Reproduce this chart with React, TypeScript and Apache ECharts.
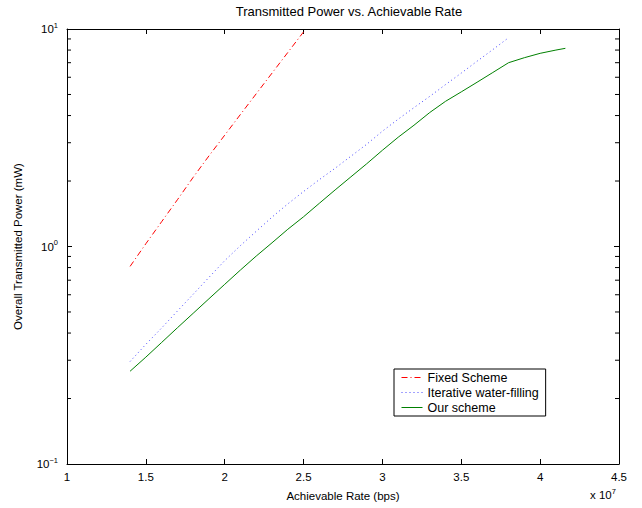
import React, { useEffect, useRef } from "react";
import * as echarts from "echarts";

const FONT = "'Liberation Sans', Arial, Helvetica, sans-serif";

const seriesNames = ["Fixed Scheme", "Iterative water-filling", "Our scheme"];

const fixedRate = [1.4e7, 1.5e7, 1.6e7, 1.7e7, 1.8e7, 1.9e7, 2.0e7, 2.1e7, 2.2e7, 2.3e7, 2.4e7, 2.5e7];
const fixedPower = [0.81, 1.03, 1.3, 1.64, 2.08, 2.61, 3.25, 4.05, 5.04, 6.27, 7.8, 9.7];

const iterRate = [
  1.4e7, 1.5e7, 1.6e7, 1.7e7, 1.8e7, 1.9e7, 2.0e7, 2.1e7, 2.2e7, 2.3e7, 2.4e7, 2.5e7, 2.6e7,
  2.7e7, 2.8e7, 2.9e7, 3.0e7, 3.1e7, 3.2e7, 3.3e7, 3.4e7, 3.5e7, 3.6e7, 3.7e7, 3.8e7,
];
const iterPower = [
  0.296, 0.355, 0.422, 0.505, 0.603, 0.721, 0.861, 1.01, 1.175, 1.365, 1.57, 1.79, 2.03,
  2.29, 2.6, 2.95, 3.39, 3.85, 4.35, 4.9, 5.55, 6.27, 7.11, 8.04, 9.12,
];

const oursRate = [
  1.4e7, 1.5e7, 1.6e7, 1.7e7, 1.8e7, 1.9e7, 2.0e7, 2.1e7, 2.2e7, 2.3e7, 2.4e7, 2.5e7, 2.6e7,
  2.7e7, 2.8e7, 2.9e7, 3.0e7, 3.1e7, 3.2e7, 3.3e7, 3.4e7, 3.5e7, 3.6e7, 3.7e7, 3.8e7, 3.9e7,
  4.0e7, 4.1e7, 4.16e7,
];
const oursPower = [
  0.267, 0.31, 0.362, 0.423, 0.493, 0.575, 0.67, 0.78, 0.904, 1.04, 1.2, 1.37, 1.58,
  1.82, 2.09, 2.4, 2.77, 3.18, 3.61, 4.13, 4.65, 5.14, 5.69, 6.31, 7.0, 7.38,
  7.73, 8.0, 8.15,
];

const xMin = 1e7;
const xMax = 4.5e7;
const xInterval = 0.5e7;
const yMin = 0.1;
const yMax = 10;
const yMinorTicks = [0.2, 0.3, 0.4, 0.5, 0.6, 0.7, 0.8, 0.9, 2, 3, 4, 5, 6, 7, 8, 9];

const zip = (xs: number[], ys: number[]) => xs.map((x, i) => [x, ys[i]]);

export default function App() {
  const ref = useRef<HTMLDivElement>(null);
  useEffect(() => {
    if (!ref.current) return;
    const chart = echarts.init(ref.current, undefined, { renderer: "svg" });
    const axisLine = { show: true, lineStyle: { color: "#000", width: 1 } };
    const expLabel = (v: number) => {
      const e = Math.round(Math.log10(v));
      return `{b|10}{s|${e < 0 ? "\u2212" + Math.abs(e) : e}}`;
    };
    chart.setOption({
      animation: false,
      backgroundColor: "#fff",
      textStyle: { fontFamily: FONT },
      title: {
        text: "Transmitted Power vs. Achievable Rate",
        left: 344,
        textAlign: "center",
        top: 0,
        textStyle: { fontFamily: FONT, fontSize: 13, fontWeight: "normal", color: "#000" },
      },
      grid: { left: 67, right: 23, top: 29, bottom: 44, containLabel: false },
      legend: {
        orient: "vertical",
        left: 394,
        top: 369,
        padding: [2, 7, 2, 7],
        itemGap: 2,
        itemWidth: 21,
        itemHeight: 12,
        borderColor: "#000",
        borderWidth: 1,
        backgroundColor: "#fff",
        itemStyle: { opacity: 0 },
        lineStyle: { width: 1 },
        textStyle: { fontFamily: FONT, fontSize: 12.5, color: "#000" },
        data: seriesNames,
      },
      xAxis: [
        {
          type: "value",
          min: xMin,
          max: xMax,
          interval: xInterval,
          position: "bottom",
          name: "Achievable Rate (bps)",
          nameLocation: "middle",
          nameGap: 26,
          nameTextStyle: { fontFamily: FONT, fontSize: 11.5, color: "#000" },
          axisLine,
          axisTick: { show: true, inside: true, length: 5, lineStyle: { color: "#000" } },
          axisLabel: {
            margin: 7,
            fontFamily: FONT,
            fontSize: 11.5,
            color: "#000",
            formatter: (v: number) => String(Math.round(v / 1e6) / 10),
          },
          splitLine: { show: false },
        },
        {
          type: "value",
          min: xMin,
          max: xMax,
          interval: xInterval,
          position: "top",
          axisLine,
          axisTick: { show: true, inside: true, length: 5, lineStyle: { color: "#000" } },
          axisLabel: { show: false },
          splitLine: { show: false },
        },
      ],
      yAxis: [
        {
          type: "log",
          logBase: 10,
          min: yMin,
          max: yMax,
          position: "left",
          name: "Overall Transmitted Power (mW)",
          nameLocation: "middle",
          nameGap: 43,
          nameTextStyle: { fontFamily: FONT, fontSize: 11.5, color: "#000" },
          axisLine,
          axisTick: { show: true, inside: true, length: 5, lineStyle: { color: "#000" } },
          axisLabel: {
            margin: 9,
            formatter: expLabel,
            rich: {
              b: { fontFamily: FONT, fontSize: 11.5, color: "#000" },
              s: { fontFamily: FONT, fontSize: 7.5, color: "#000", padding: [0, 0, 8, 0] },
            },
          },
          splitLine: { show: false },
        },
        {
          type: "log",
          logBase: 10,
          min: yMin,
          max: yMax,
          position: "right",
          axisLine,
          axisTick: { show: true, inside: true, length: 5, lineStyle: { color: "#000" } },
          axisLabel: { show: false },
          splitLine: { show: false },
        },
      ],
      series: [
        {
          name: seriesNames[0],
          type: "line",
          data: zip(fixedRate, fixedPower),
          symbol: "none",
          color: "#ff0000",
          lineStyle: { color: "#ff0000", width: 1, type: [6, 3, 1, 3] },
        },
        {
          name: seriesNames[1],
          type: "line",
          data: zip(iterRate, iterPower),
          symbol: "none",
          color: "#4444ff",
          lineStyle: { color: "#4444ff", width: 1, type: [1, 3] },
        },
        {
          name: seriesNames[2],
          type: "line",
          data: zip(oursRate, oursPower),
          symbol: "none",
          color: "#008000",
          lineStyle: { color: "#008000", width: 1, type: "solid" },
        },
      ],
    });

    const xl = chart.convertToPixel({ xAxisIndex: 0 }, xMin) as number;
    const xr = chart.convertToPixel({ xAxisIndex: 0 }, xMax) as number;
    const yb = chart.convertToPixel({ yAxisIndex: 0 }, yMin) as number;
    const elements: any[] = [];
    yMinorTicks.forEach((v) => {
      const y = chart.convertToPixel({ yAxisIndex: 0 }, v) as number;
      elements.push({
        type: "line",
        shape: { x1: xl, y1: y, x2: xl + 4, y2: y },
        style: { stroke: "#000", lineWidth: 1 },
        silent: true,
      });
      elements.push({
        type: "line",
        shape: { x1: xr - 4, y1: y, x2: xr, y2: y },
        style: { stroke: "#000", lineWidth: 1 },
        silent: true,
      });
    });
    elements.push({
      type: "text",
      x: xr - 29,
      y: yb + 23,
      style: {
        text: "{b|x 10}{s|7}",
        rich: {
          b: { fontFamily: FONT, fontSize: 11.5, fill: "#000" },
          s: { fontFamily: FONT, fontSize: 7.5, fill: "#000", padding: [0, 0, 8, 0] },
        },
      },
    });
    chart.setOption({ graphic: { elements } });

    return () => chart.dispose();
  }, []);
  return (
    <div
      ref={ref}
      style={{ position: "absolute", left: 0, top: 0, width: 642, height: 508 }}
    />
  );
}
